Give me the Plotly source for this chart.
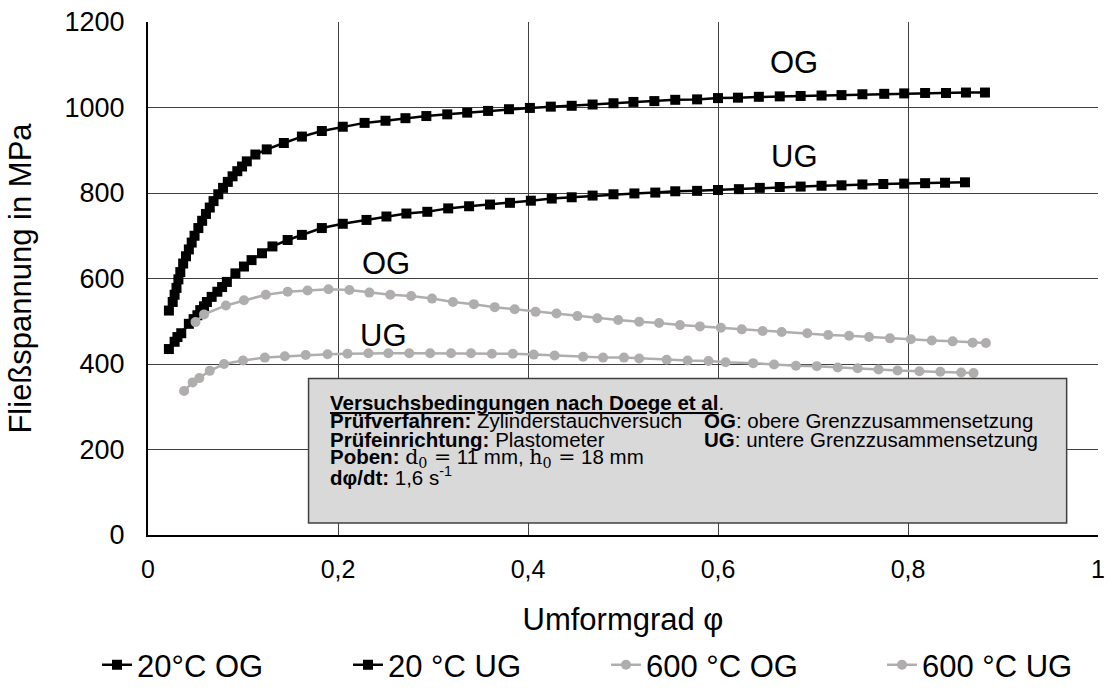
import plotly.graph_objects as go

# Fließkurven (Umformgrad φ, Fließspannung in MPa)
phi_20_og = [0.022, 0.026, 0.028, 0.030, 0.032, 0.034, 0.037, 0.040, 0.043, 0.046,
             0.049, 0.053, 0.057, 0.061, 0.065, 0.069, 0.074, 0.079, 0.084, 0.089,
             0.094, 0.099, 0.104, 0.113, 0.125, 0.143, 0.162, 0.183, 0.205, 0.228,
             0.250, 0.271, 0.293, 0.315, 0.336, 0.358, 0.380, 0.402, 0.424, 0.446,
             0.468, 0.490, 0.511, 0.533, 0.555, 0.578, 0.600, 0.621, 0.643, 0.665,
             0.687, 0.709, 0.730, 0.752, 0.775, 0.796, 0.818, 0.840, 0.861, 0.881]
kf_20_og = [525, 545, 562, 578, 598, 615, 635, 652, 668, 684,
            700, 718, 735, 751, 766, 781, 797, 812, 826, 839,
            851, 862, 874, 890, 902, 917, 932, 945, 955, 964,
            969, 975, 980, 984, 988, 992, 996, 999, 1002, 1004,
            1007, 1010, 1013, 1015, 1018, 1019, 1022, 1023, 1025, 1026,
            1027, 1028, 1029, 1031, 1032, 1033, 1034, 1034, 1035, 1035]

phi_20_ug = [0.022, 0.028, 0.031, 0.035, 0.043, 0.048, 0.052, 0.055, 0.059, 0.062,
             0.067, 0.073, 0.078, 0.083, 0.092, 0.101, 0.109, 0.120, 0.131, 0.147,
             0.162, 0.183, 0.205, 0.230, 0.251, 0.272, 0.294, 0.316, 0.338, 0.360,
             0.381, 0.403, 0.425, 0.446, 0.468, 0.490, 0.512, 0.534, 0.555, 0.578,
             0.600, 0.622, 0.644, 0.665, 0.687, 0.709, 0.730, 0.752, 0.774, 0.796,
             0.818, 0.839, 0.860]
kf_20_ug = [435, 452, 463, 472, 494, 505, 514, 526, 535, 545,
            557, 569, 580, 592, 612, 628, 643, 659, 675, 690,
            702, 718, 728, 737, 745, 752, 756, 764, 769, 773,
            777, 782, 787, 790, 794, 797, 799, 801, 804, 805,
            807, 809, 812, 814, 815, 817, 818, 820, 821, 822,
            823, 824, 825]

phi_600_og = [0.050, 0.059, 0.082, 0.101, 0.124, 0.147, 0.168, 0.190, 0.212, 0.233,
              0.255, 0.277, 0.299, 0.321, 0.343, 0.365, 0.386, 0.408, 0.430, 0.452,
              0.473, 0.495, 0.517, 0.538, 0.560, 0.581, 0.603, 0.625, 0.647, 0.667,
              0.694, 0.716, 0.738, 0.759, 0.781, 0.803, 0.825, 0.847, 0.868, 0.882]
kf_600_og = [498, 516, 537, 549, 562, 569, 572, 575, 573, 567,
             562, 559, 553, 545, 540, 533, 528, 522, 518, 512,
             507, 503, 499, 496, 491, 488, 485, 481, 477, 475,
             472, 468, 466, 463, 460, 458, 455, 453, 450, 449]

phi_600_ug = [0.038, 0.047, 0.054, 0.065, 0.080, 0.100, 0.123, 0.144, 0.166, 0.189,
              0.210, 0.232, 0.253, 0.275, 0.297, 0.319, 0.340, 0.362, 0.384, 0.406,
              0.428, 0.458, 0.479, 0.501, 0.517, 0.546, 0.568, 0.590, 0.608, 0.637,
              0.659, 0.682, 0.704, 0.726, 0.747, 0.769, 0.789, 0.812, 0.834, 0.856,
              0.869]
kf_600_ug = [337, 357, 367, 384, 400, 408, 415, 418, 421, 423,
             424, 425, 425, 425, 425, 425, 425, 424, 424, 422,
             420, 417, 415, 415, 413, 410, 408, 407, 404, 402,
             399, 396, 395, 392, 390, 387, 385, 383, 382, 380,
             379]

series = [
    ("20°C OG", phi_20_og, kf_20_og, "#000000", "square", 10),
    ("20 °C UG", phi_20_ug, kf_20_ug, "#000000", "square", 10),
    ("600 °C OG", phi_600_og, kf_600_og, "#b0adad", "circle", 10),
    ("600 °C UG", phi_600_ug, kf_600_ug, "#b0adad", "circle", 10),
]

x_ticks = [0, 0.2, 0.4, 0.6, 0.8, 1.0]
x_ticktext = ["0", "0,2", "0,4", "0,6", "0,8", "1"]
y_ticks = [0, 200, 400, 600, 800, 1000, 1200]

FONT = "Arial, 'Liberation Sans', sans-serif"
MATH = "'Cambria Math', 'DejaVu Serif', serif"

fig = go.Figure()
legend_ids = ["legend", "legend2", "legend3", "legend4"]
for (name, xs, ys, col, sym, size), lg in zip(series, legend_ids):
    fig.add_trace(go.Scatter(
        x=xs, y=ys, name=name, mode="lines+markers", legend=lg,
        line=dict(color=col, width=2.5),
        marker=dict(symbol=sym, size=size, color=col, line=dict(width=0)),
    ))

# Infobox mit Versuchsbedingungen
fig.add_shape(type="rect", xref="x", yref="y", x0=0.169, x1=0.967, y0=28, y1=366,
              fillcolor="#d9d9d9", line=dict(color="#404040", width=1.5), layer="above")

left_lines = [
    "<b><u>Versuchsbedingungen nach Doege et al</u></b>.",
    "<b>Prüfverfahren:</b> Zylinderstauchversuch",
    "<b>Prüfeinrichtung:</b> Plastometer",
    f"<b>Poben:</b> <span style=\"font-family:{MATH}\">d<sub>0</sub> =</span> 11 mm, "
    f"<span style=\"font-family:{MATH}\">h<sub>0</sub> =</span> 18 mm",
    "<b>dφ/dt:</b> 1,6 s<sup>-1</sup>",
]
line_y = [310, 267, 224, 181, 137]
for txt, yy in zip(left_lines, line_y):
    fig.add_annotation(x=0.189, y=yy, xref="x", yref="y", text=txt, showarrow=False,
                       xanchor="left", yanchor="middle", align="left",
                       font=dict(family=FONT, size=20.5, color="#000000"))

right_lines = [
    "<b>OG</b>: obere Grenzzusammensetzung",
    "<b>UG</b>: untere Grenzzusammensetzung",
]
for txt, yy in zip(right_lines, line_y[1:3]):
    fig.add_annotation(x=0.583, y=yy, xref="x", yref="y", text=txt, showarrow=False,
                       xanchor="left", yanchor="middle", align="left",
                       font=dict(family=FONT, size=20.5, color="#000000"))

# Kurvenbeschriftungen
for txt, xx, yy in [("OG", 0.68, 1105), ("UG", 0.68, 886), ("OG", 0.25, 634), ("UG", 0.248, 467)]:
    fig.add_annotation(x=xx, y=yy, xref="x", yref="y", text=txt, showarrow=False,
                       font=dict(family=FONT, size=31, color="#000000"))

legend_style = dict(orientation="h", xref="container", yref="container", y=0.043,
                    yanchor="middle", xanchor="left", itemwidth=30,
                    font=dict(family=FONT, size=31, color="#000000"),
                    bgcolor="rgba(0,0,0,0)")
legend_x = [97, 348, 606, 882]

fig.update_layout(
    width=1113, height=695,
    margin=dict(l=148, r=15, t=22, b=160, autoexpand=False),
    paper_bgcolor="white", plot_bgcolor="white",
    font=dict(family=FONT, size=26, color="#000000"),
    showlegend=True,
    legend=dict(legend_style, x=legend_x[0] / 1113),
    legend2=dict(legend_style, x=legend_x[1] / 1113),
    legend3=dict(legend_style, x=legend_x[2] / 1113),
    legend4=dict(legend_style, x=legend_x[3] / 1113),
)
fig.update_xaxes(
    range=[0, 1], tickvals=x_ticks, ticktext=x_ticktext,
    showgrid=True, gridcolor="#404040", gridwidth=1,
    showline=True, linecolor="#000000", linewidth=2, zeroline=False,
    ticks="", ticklabelstandoff=11, automargin=False,
    tickfont=dict(family=FONT, size=25),
    title=dict(text="Umformgrad φ", font=dict(family=FONT, size=31), standoff=26),
)
fig.update_yaxes(
    range=[0, 1200], tickvals=y_ticks,
    showgrid=True, gridcolor="#404040", gridwidth=1,
    showline=True, linecolor="#000000", linewidth=2, zeroline=False,
    ticks="", ticklabelstandoff=16, automargin=False,
    tickfont=dict(family=FONT, size=27),
    title=dict(text="Fließspannung in MPa", font=dict(family=FONT, size=31), standoff=24),
)

fig.write_html("out.html")
